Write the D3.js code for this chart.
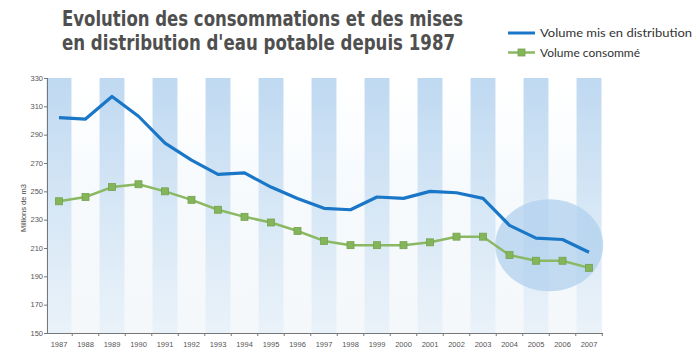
<!DOCTYPE html>
<html><head><meta charset="utf-8">
<script src="https://cdn.jsdelivr.net/npm/d3@7"></script>
<style>html,body{margin:0;padding:0;background:#fff;}svg{display:block;}</style>
</head><body>
<svg id="c" width="695" height="359"></svg>
<script>
const years = [1987,1988,1989,1990,1991,1992,1993,1994,1995,1996,1997,1998,1999,2000,2001,2002,2003,2004,2005,2006,2007];
const volumeDistribution = [302,301,317,303,284,272,262,263,253,245,238,237,246,245,250,249,245,226,217,216,207];
const volumeConsomme = [243,246,253,255,250,244,237,232,228,222,215,212,212,212,214,218,218,205,201,201,196];
const yTicks = [150,170,190,210,230,250,270,290,310,330];
const titleLines = ["Evolution des consommations et des mises","en distribution d'eau potable depuis 1987"];
const legendLabels = ["Volume mis en distribution","Volume consommé"];
const yLabel = "Millions de m3";

const svg = d3.select("#c");
const defs = svg.append("defs");
const g1 = defs.append("linearGradient").attr("id","stripe").attr("x1",0).attr("x2",0).attr("y1",0).attr("y2",1);
g1.append("stop").attr("offset","0%").attr("stop-color","#bfd9f1");
g1.append("stop").attr("offset","55%").attr("stop-color","#d8e8f6");
g1.append("stop").attr("offset","100%").attr("stop-color","#eaf2f9");
const g2 = defs.append("linearGradient").attr("id","gap").attr("x1",0).attr("x2",0).attr("y1",0).attr("y2",1);
g2.append("stop").attr("offset","0%").attr("stop-color","#ffffff");
g2.append("stop").attr("offset","45%").attr("stop-color","#f6fafd");
g2.append("stop").attr("offset","100%").attr("stop-color","#f4f8fb");

const x = d3.scaleLinear().domain([1987,2007]).range([59,589]);
const y = d3.scaleLinear().domain([150,330]).range([333,78]);
const step = x(1988)-x(1987);

svg.append("rect").attr("x",47).attr("y",y(330)).attr("width",x(2007)+step/2-47).attr("height",y(150)-y(330)).attr("fill","url(#gap)");
svg.append("g").selectAll("rect").data(years.filter(d=>(d-1987)%2===0)).join("rect")
  .attr("x",d=>x(d)-step*0.47).attr("width",step*0.94)
  .attr("y",y(330)).attr("height",y(150)-y(330)).attr("fill","url(#stripe)");

svg.append("ellipse").attr("cx",(x(2005)+x(2006))/2).attr("cy",y(212)).attr("rx",54).attr("ry",46)
  .attr("fill","#b0d0ee").attr("opacity",0.75);

const ax = svg.append("g").attr("stroke","#777").attr("stroke-width",1);
ax.append("line").attr("x1",47.5).attr("x2",47.5).attr("y1",y(330)).attr("y2",y(150));
ax.append("line").attr("x1",47).attr("x2",603).attr("y1",y(150)+0.5).attr("y2",y(150)+0.5);
ax.selectAll(".yt").data(yTicks).join("line").attr("x1",44).attr("x2",47).attr("y1",d=>y(d)+0.5).attr("y2",d=>y(d)+0.5);
ax.selectAll(".xt").data(years).join("line").attr("x1",d=>x(d)+step/2).attr("x2",d=>x(d)+step/2).attr("y1",y(150)).attr("y2",y(150)+3);

svg.append("g").selectAll("text").data(yTicks).join("text")
  .attr("x",43).attr("y",d=>y(d)+2.5).attr("text-anchor","end")
  .attr("font-family","Liberation Sans Narrow, Arial Narrow, sans-serif").attr("font-size",7.5).attr("fill","#555")
  .text(d=>d);
svg.append("g").selectAll("text").data(years).join("text")
  .attr("x",d=>x(d)).attr("y",347).attr("text-anchor","middle")
  .attr("font-family","Liberation Sans Narrow, Arial Narrow, sans-serif").attr("font-size",7.5).attr("fill","#555")
  .text(d=>d);
svg.append("text").attr("transform","translate(26,208) rotate(-90)").attr("text-anchor","middle")
  .attr("font-family","Liberation Sans Narrow, Arial Narrow, sans-serif").attr("font-size",7.5).attr("fill","#444").text(yLabel);

const line = d3.line().x((d,i)=>x(years[i])).y(d=>y(d));
svg.append("path").datum(volumeConsomme).attr("d",line).attr("fill","none").attr("stroke","#8ab863").attr("stroke-width",2.5).attr("stroke-linejoin","round");
svg.append("g").selectAll("rect").data(volumeConsomme).join("rect")
  .attr("x",(d,i)=>x(years[i])-3.5).attr("y",d=>y(d)-3.5).attr("width",7).attr("height",7)
  .attr("fill","#84b55a").attr("stroke","#74a24e").attr("stroke-width",0.8);
svg.append("path").datum(volumeDistribution).attr("d",line).attr("fill","none").attr("stroke","#1a76c6").attr("stroke-width",3.2).attr("stroke-linejoin","round");

svg.append("g").selectAll("text").data(titleLines).join("text")
  .attr("x",62).attr("y",(d,i)=>26+i*24)
  .attr("font-family","DejaVu Sans, sans-serif").attr("font-weight","bold").attr("font-size",21)
  .attr("fill","#4f4f4f").attr("textLength",(d,i)=>i===0?401:393).attr("lengthAdjust","spacingAndGlyphs")
  .text(d=>d);

const lg = svg.append("g");
lg.append("line").attr("x1",508).attr("x2",535).attr("y1",33).attr("y2",33).attr("stroke","#1a76c6").attr("stroke-width",3);
lg.append("line").attr("x1",508).attr("x2",535).attr("y1",52.5).attr("y2",52.5).attr("stroke","#8ab863").attr("stroke-width",2.5);
lg.append("rect").attr("x",518).attr("y",49).attr("width",7).attr("height",7).attr("fill","#84b55a").attr("stroke","#74a24e").attr("stroke-width",0.8);
lg.selectAll("text").data(legendLabels).join("text")
  .attr("x",540).attr("y",(d,i)=>36.5+i*20.5)
  .attr("font-family","Lato, sans-serif").attr("font-size",12).attr("fill","#333")
  .attr("textLength",(d,i)=>i===0?152:100).attr("lengthAdjust","spacingAndGlyphs")
  .text(d=>d);
</script>
</body></html>
